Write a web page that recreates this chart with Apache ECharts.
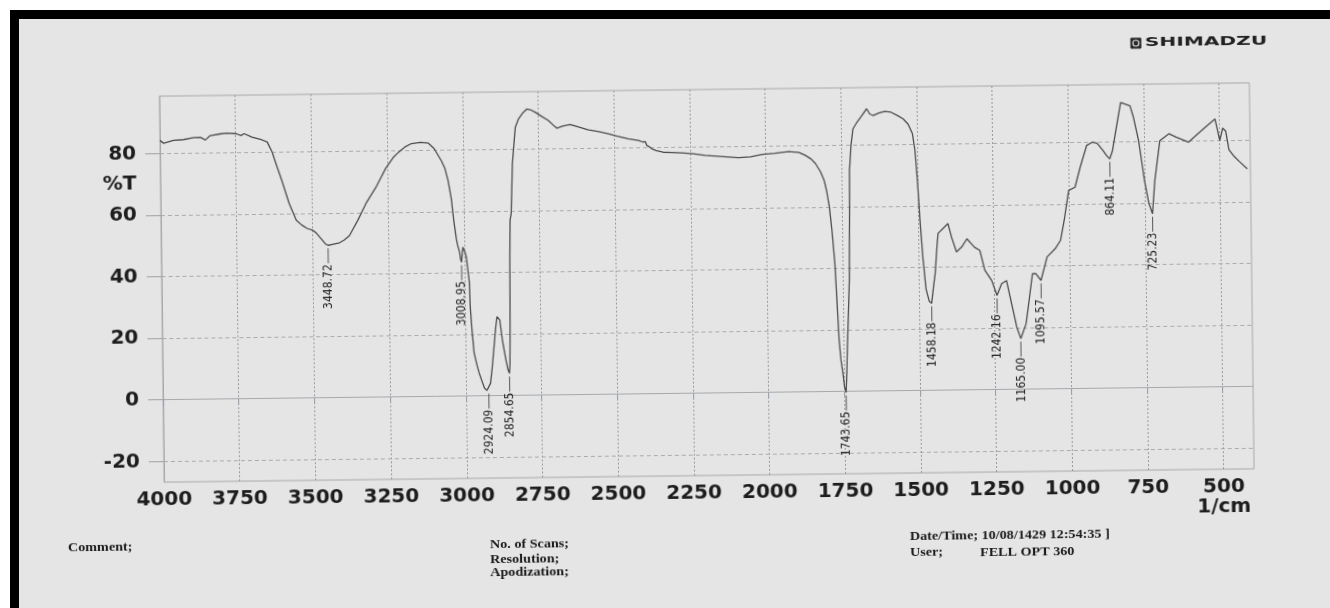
<!DOCTYPE html>
<html><head><meta charset="utf-8">
<script src="https://cdn.jsdelivr.net/npm/echarts@6.0.0/dist/echarts.min.js"></script>
<style>
html,body{margin:0;padding:0;width:1330px;height:608px;overflow:hidden;background:#fff;}
#paper{position:absolute;left:10px;top:10px;width:1320px;height:598px;box-sizing:border-box;border-top:9px solid #000;border-left:9px solid #000;background:#e5e5e5;}
#chart{position:absolute;left:0;top:0;width:1330px;height:608px;transform:rotate(-0.7deg);transform-origin:665px 304px;}
</style></head><body>
<div id="paper"></div>
<div id="chart"></div>
<script>
// Spectrum: wavenumber (1/cm) and transmittance (%T)
const wavenumber = [4000,3988,3955,3922,3889,3867,3850,3834,3801,3780,3748,3732,3722,3696,3663,3646,3630,3618,3599,3576,3553,3535,3518,3500,3488,3470,3458,3449,3435,3411,3395,3378,3350,3322,3289,3256,3230,3213,3190,3170,3140,3114,3095,3072,3060,3050,3040,3033,3025,3021,3015,3012,3009,3004,2998,2993,2984,2982,2977,2971,2962,2955,2945,2938,2930,2924,2918,2912,2905,2899,2894,2888,2885,2877,2866,2860,2855,2853,2851,2849,2847,2843,2837,2826,2815,2800,2787,2773,2760,2740,2717,2700,2688,2670,2645,2620,2586,2550,2519,2490,2453,2420,2405,2397,2392,2388,2384,2375,2360,2339,2310,2277,2240,2200,2150,2090,2050,2012,1970,1924,1890,1869,1850,1836,1820,1808,1800,1792,1784,1776,1770,1765,1760,1754,1749,1744,1741,1738,1733,1729,1726,1724,1718,1711,1700,1685,1665,1655,1644,1625,1605,1585,1562,1545,1529,1515,1507,1500,1493,1485,1476,1466,1458,1452,1445,1438,1434,1418,1401,1390,1374,1357,1339,1325,1314,1297,1281,1259,1242,1226,1210,1194,1178,1165,1147,1136,1124,1113,1096,1075,1048,1030,1017,1001,980,962,940,920,905,886,874,864,855,845,826,812,795,784,768,750,737,725,716,698,668,644,603,572,541,515,500,490,480,470,455,435,410];
const transmittance = [84.2,83.3,84.2,84.4,85.0,85.1,84.2,85.6,86.1,86.3,86.1,85.5,86.1,84.9,84.0,83.3,80.0,76.3,70.7,63.3,57.8,56.2,55.1,54.5,53.6,51.5,50.0,49.5,49.8,50.3,51.2,52.6,57.5,63.0,68.1,74.2,77.8,79.4,81.2,82.2,82.6,82.3,80.5,76.6,74.0,70.0,64.0,57.1,51.0,49.0,46.8,44.5,43.5,48.4,47.0,45.2,37.1,29.0,21.3,14.0,10.0,7.4,4.5,2.5,1.8,1.7,4.1,9.0,15.9,22.0,25.7,25.8,24.6,18.0,11.5,8.5,7.2,10.5,24.5,46.2,56.9,59.1,75.4,87.1,89.8,91.8,93.0,92.6,91.9,90.6,89.2,87.6,86.6,87.3,87.8,87.0,86.0,85.3,84.6,83.8,82.9,82.3,81.8,81.9,80.6,81.2,80.2,79.5,78.9,78.4,78.3,78.1,77.8,77.2,76.8,76.3,76.6,77.3,77.6,78.1,77.8,76.8,75.6,74.1,71.5,68.6,65.0,60.0,52.0,41.5,28.0,16.7,10.5,6.0,1.5,-0.3,6.0,14.5,26.0,36.0,55.0,71.8,80.0,85.2,87.0,89.0,91.7,90.0,89.5,90.3,90.8,90.5,89.3,88.3,86.6,83.5,78.0,68.0,55.0,43.0,33.0,29.0,28.3,33.0,38.1,47.0,51.0,52.5,54.1,49.8,44.9,46.4,49.1,47.5,46.3,45.3,38.8,35.5,30.6,34.4,35.4,27.9,20.3,16.5,21.3,28.9,37.5,37.5,35.3,42.9,45.5,48.2,54.7,64.4,65.4,71.9,78.9,80.0,79.6,77.2,75.5,74.5,77.0,82.5,92.7,92.2,91.6,87.8,80.2,67.2,60.0,56.5,67.3,80.2,82.4,81.3,79.6,82.3,84.9,87.0,80.0,84.0,83.0,77.0,75.0,73.0,70.7];

// Peak annotations
const peakWn = [3449,3009,2924,2855,1744,1458,1242,1165,1096,864,725];
const peakT = [49.5,43.5,1.7,7.2,-0.3,28.3,30.6,16.5,35.3,74.5,56.5];
const peakText = ['3448.72','3008.95','2924.09','2854.65','1743.65','1458.18','1242.16','1165.00','1095.57','864.11','725.23'];

// Axis ticks and labels
const xTicks = [4000,3750,3500,3250,3000,2750,2500,2250,2000,1750,1500,1250,1000,750,500];
const yTicks = [-20,0,20,40,60,80];
const yLabels = [-20,0,20,40,60,70,80];

const footerFont = 'bold 12px "Liberation Serif", "DejaVu Serif", serif';

const chart = echarts.init(document.getElementById('chart'), null, {renderer:'canvas'});
chart.setOption({
  animation: false,
  backgroundColor: 'transparent',
  grid: {left:162, top:90, right:78, bottom:132, show:true, borderColor:'#a6a8ab', borderWidth:1, backgroundColor:'transparent'},
  xAxis: {
    type:'value', min:400, max:4000, inverse:true,
    axisLine:{show:true, lineStyle:{color:'#a6a8ab', width:1}},
    axisTick:{show:true, length:6, customValues:xTicks, lineStyle:{color:'#8f9aa6', width:1}},
    axisLabel:{customValues:xTicks, margin:8, fontFamily:'"DejaVu Sans", sans-serif', fontWeight:'bold', fontSize:20, lineHeight:20, color:'#1d1d1d',
      formatter: v => v === 500 ? '500\n1/cm' : String(v)},
    splitLine:{show:true, lineStyle:{color:'#959aa2', type:[2,2], width:1}}
  },
  yAxis: {
    type:'value', min:-26.7, max:98.6,
    axisLine:{show:true, lineStyle:{color:'#a6a8ab', width:1}},
    axisTick:{show:true, length:15, customValues:yTicks, lineStyle:{color:'#a0a0a0', width:1}},
    axisLabel:{customValues:yLabels, margin:24, fontFamily:'"DejaVu Sans", sans-serif', fontWeight:'bold', fontSize:20, color:'#1d1d1d',
      formatter: v => v === 70 ? '%T' : String(v)},
    splitLine:{show:true, lineStyle:{color:'#a9abae', type:[4,3], width:1}}
  },
  series: [
    {
      type:'line', name:'spectrum', showSymbol:false, symbol:'none', smooth:false,
      data: wavenumber.map((w,i) => [w, transmittance[i]]),
      lineStyle:{color:'#4c4c4c', width:1.3}
    },
    {
      type:'custom', coordinateSystem:'cartesian2d', clip:false, silent:true,
      data: peakWn.map((w,i) => [w, peakT[i]]),
      encode:{x:0, y:1},
      renderItem: (params, api) => {
        const p = api.coord([api.value(0), api.value(1)]);
        const i = params.dataIndex;
        return {type:'group', children:[
          {type:'line', shape:{x1:p[0], y1:p[1]+3, x2:p[0], y2:p[1]+18}, style:{stroke:'#555', lineWidth:1}},
          {type:'text', x:p[0], y:p[1]+19, rotation:Math.PI/2,
            style:{text:peakText[i], fill:'#262626', fontSize:12, fontFamily:'"Liberation Sans Narrow", "DejaVu Sans Condensed", sans-serif', align:'right', verticalAlign:'middle'}}
        ]};
      }
    }
  ],
  graphic: [
    {type:'rect', shape:{x:1134, y:44, width:10, height:10}, style:{fill:'#2a2a2a', stroke:'#2a2a2a', lineWidth:1}},
    {type:'circle', shape:{cx:1139, cy:49, r:3}, style:{fill:'none', stroke:'#d8d8d8', lineWidth:1.2}},
    {type:'text', x:1148, y:49, scaleX:1.68, style:{text:'SHIMADZU', fill:'#222', font:'bold 12px "DejaVu Sans", sans-serif', verticalAlign:'middle', align:'left'}},
    {type:'text', x:65, y:541, scaleX:1.18, style:{text:'Comment;', fill:'#1a1a1a', font:footerFont, verticalAlign:'middle', align:'left'}},
    {type:'text', x:487, y:543, scaleX:1.18, style:{text:'No. of Scans;', fill:'#1a1a1a', font:footerFont, verticalAlign:'middle', align:'left'}},
    {type:'text', x:487, y:558, scaleX:1.18, style:{text:'Resolution;', fill:'#1a1a1a', font:footerFont, verticalAlign:'middle', align:'left'}},
    {type:'text', x:487, y:571, scaleX:1.18, style:{text:'Apodization;', fill:'#1a1a1a', font:footerFont, verticalAlign:'middle', align:'left'}},
    {type:'text', x:907, y:540, scaleX:1.18, style:{text:'Date/Time; 10/08/1429 12:54:35 ]', fill:'#1a1a1a', font:footerFont, verticalAlign:'middle', align:'left'}},
    {type:'text', x:907, y:556, scaleX:1.18, style:{text:'User;', fill:'#1a1a1a', font:footerFont, verticalAlign:'middle', align:'left'}},
    {type:'text', x:977, y:557, scaleX:1.18, style:{text:'FELL OPT 360', fill:'#1a1a1a', font:footerFont, verticalAlign:'middle', align:'left'}}
  ]
});
</script>
</body></html>
